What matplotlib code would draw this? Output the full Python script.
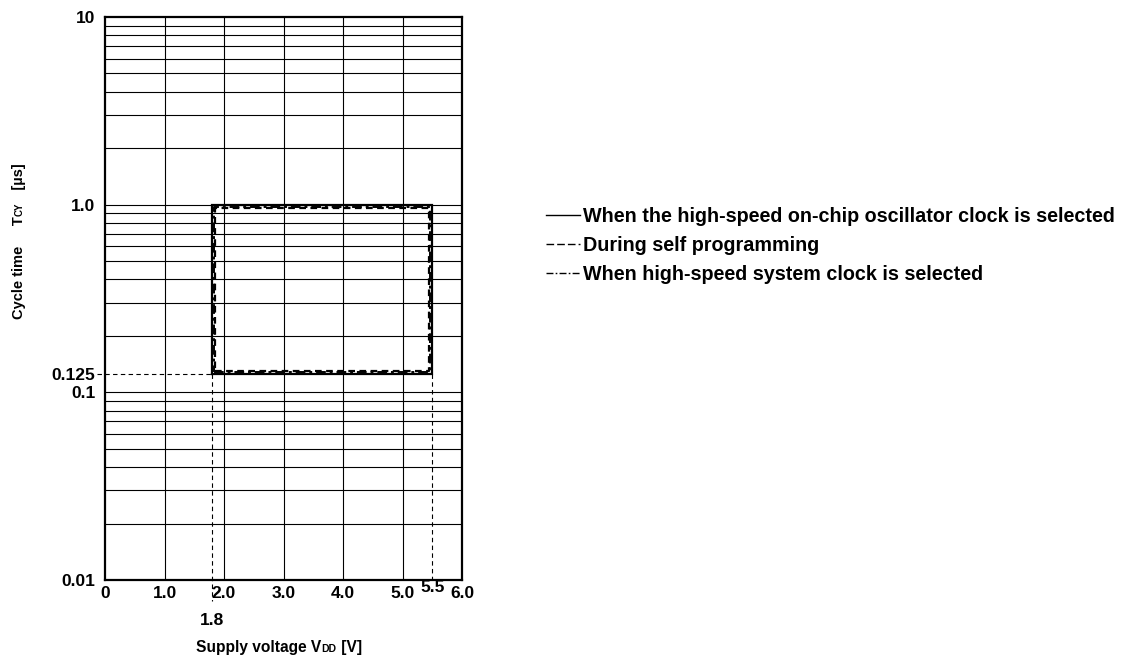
import matplotlib
matplotlib.use('Agg')
import matplotlib.pyplot as plt
from matplotlib.lines import Line2D

plt.rcParams['font.family'] = ['Liberation Sans', 'DejaVu Sans']
plt.rcParams['font.weight'] = 'bold'

# ---- data ----
onchip_vdd = [1.8, 5.5, 5.5, 1.8, 1.8]
onchip_tcy = [0.125, 0.125, 1.0, 1.0, 0.125]
selfprog_vdd = [1.85, 5.45, 5.45, 1.85, 1.85]
selfprog_tcy = [0.1296, 0.1296, 0.965, 0.965, 0.1296]
hsys_vdd = [1.833, 5.467, 5.467, 1.833, 1.833]
hsys_tcy = [0.128, 0.128, 0.976, 0.976, 0.128]

guide_vdd = [1.8, 5.5]
guide_tcy = 0.125

x_ticks = [0, 1, 2, 3, 4, 5, 6]
x_tick_labels = ['0', '1.0', '2.0', '3.0', '4.0', '5.0', '6.0']
y_ticks = [0.01, 0.1, 0.125, 1.0, 10]
y_tick_labels = ['0.01', '0.1', '0.125', '1.0', '10']

legend_labels = ['When the high-speed on-chip oscillator clock is selected',
                 'During self programming',
                 'When high-speed system clock is selected']

W, H = 1133, 663
fig = plt.figure(figsize=(W / 100, H / 100), dpi=100)
ax = fig.add_axes([105 / W, 1 - 580 / H, (462 - 105) / W, (580 - 17) / H])
ax.set_xlim(0, 6)
ax.set_yscale('log')
ax.set_ylim(0.01, 10)

# grid
ax.set_xticks(x_ticks)
ax.set_xticklabels(x_tick_labels, fontsize=12.5, fontweight='bold')
ax.set_yticks(y_ticks)
ax.set_yticklabels(y_tick_labels, fontsize=12.5, fontweight='bold')
ax.minorticks_on()
ax.tick_params(axis='both', which='both', length=0)
ax.tick_params(axis='x', pad=4)
ax.tick_params(axis='y', pad=7)
ax.xaxis.set_minor_locator(matplotlib.ticker.NullLocator())
for xv in x_ticks[1:-1]:
    ax.axvline(xv, color='black', lw=0.8, zorder=1)
for dec in [0.01, 0.1, 1.0]:
    for m in range(1, 10):
        v = dec * m
        if 0.01 < v < 10:
            ax.axhline(v, color='black', lw=0.8, zorder=1)
for s in ax.spines.values():
    s.set_linewidth(1.6)

# guides
ax.plot([-0.13, guide_vdd[0]], [guide_tcy, guide_tcy], color='black', lw=0.8,
        ls=(0, (4, 3)), clip_on=False, zorder=2)
ax.plot([guide_vdd[0], guide_vdd[0]], [guide_tcy, 0.0077], color='black', lw=0.8,
        ls=(0, (4, 3)), clip_on=False, zorder=2)
ax.plot([guide_vdd[1], guide_vdd[1]], [guide_tcy, 0.01], color='black', lw=0.8,
        ls=(0, (4, 3)), clip_on=False, zorder=2)

# rectangles
ax.plot(onchip_vdd, onchip_tcy, color='black', lw=1.6, zorder=4, solid_joinstyle='miter')
ax.plot(selfprog_vdd, selfprog_tcy, color='black', lw=1.6, ls=(0, (3, 2)), zorder=4)
ax.plot(hsys_vdd, hsys_tcy, color='black', lw=1.4, ls=(0, (5, 2, 1.5, 2)), zorder=4)

# extra x labels
tr = ax.get_xaxis_transform()
ax.text(1.8, -0.072, '1.8', transform=tr, ha='center', va='center', fontsize=12.5,
        fontweight='bold')
ax.text(5.5, -0.013, '5.5', transform=tr, ha='center', va='center', fontsize=12.5,
        fontweight='bold')

fig.canvas.draw()
renderer = fig.canvas.get_renderer()


def px(x, y):
    return x / W, 1 - y / H


def pieces_h(parts, cx, cy):
    texts = []
    widths = []
    for t, fs, dy in parts:
        tt = fig.text(0, 0, t, fontsize=fs, fontweight='bold', ha='left', va='baseline')
        bb = tt.get_window_extent(renderer)
        texts.append(tt)
        widths.append(bb.width)
    total = sum(widths)
    x = cx - total / 2
    for (t, fs, dy), tt, w in zip(parts, texts, widths):
        tt.set_position(px(x, cy + dy))
        x += w


def pieces_v(parts, cx, cy):
    texts = []
    lens = []
    for t, fs, dx in parts:
        tt = fig.text(0, 0, t, fontsize=fs, fontweight='bold', ha='left', va='baseline',
                      rotation=90, rotation_mode='anchor')
        bb = tt.get_window_extent(renderer)
        texts.append(tt)
        lens.append(bb.height)
    total = sum(lens)
    y = cy + total / 2
    for (t, fs, dx), tt, l in zip(parts, texts, lens):
        tt.set_position(px(cx + dx, y))
        y -= l


pieces_h([('Supply voltage V', 11.2, 0), ('DD', 7.5, 0), (' [V]', 11.2, 0)], 279, 652)
pieces_v([('Cycle time     T', 10.5, 0), ('CY', 7, 0), ('   [µs]', 10.5, 0)], 23, 241)

handles = [Line2D([], [], color='black', lw=1.0),
           Line2D([], [], color='black', lw=1.0, ls=(0, (5.5, 2.2))),
           Line2D([], [], color='black', lw=1.0, ls=(0, (5, 1.6, 1.2, 1.6)))]
leg = fig.legend(handles, legend_labels, loc='upper left',
                 bbox_to_anchor=(546 / W, 1 - 207 / H), frameon=False,
                 prop={'size': 14.2, 'weight': 'bold'}, handlelength=1.7,
                 handletextpad=0.2, labelspacing=0.5, borderaxespad=0,
                 borderpad=0)

fig.savefig('out.png', dpi=100)
